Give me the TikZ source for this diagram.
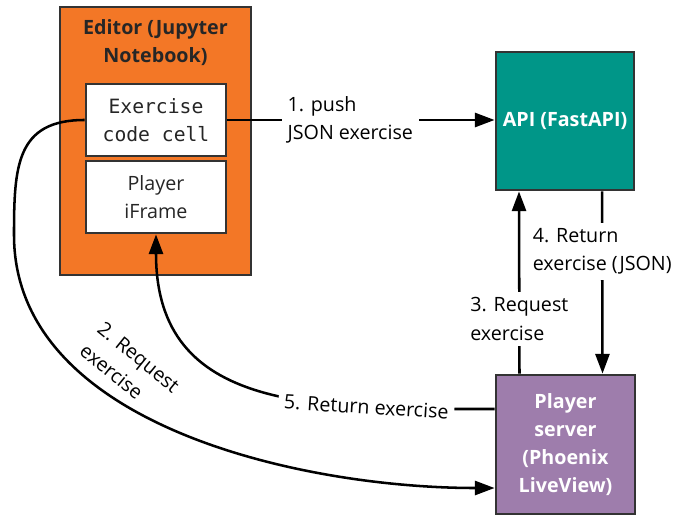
\documentclass[tikz,border=0pt]{standalone}
\usepackage{fontspec}
\setmainfont{Open Sans}
\setmonofont{DejaVu Sans Mono}
\usetikzlibrary{arrows.meta}

\definecolor{jupyterorange}{HTML}{F37726}
\definecolor{fastteal}{HTML}{009688}
\definecolor{phoenixpurple}{HTML}{9E7DAC}
\definecolor{edgegray}{HTML}{333333}

\begin{document}
\begin{tikzpicture}[x=0.025cm, y=-0.025cm, block/.style={draw=edgegray, line width=2pt, rectangle, align=center, font=\bfseries\fontsize{14}{20}\selectfont}]
            \tikzset{cell/.style = {block, fill=white, text=black!85, font=\fontsize{14}{20}\selectfont, minimum width=3.5cm, minimum height=1.8cm}}
            \tikzset{edge/.style = {-{Triangle[length=14pt,width=10pt]}, line width=1.8pt}}
            \tikzset{msg/.style = {fill=white, align=left, inner sep=4pt, font=\fontsize{14}{20}\selectfont}}

            \useasboundingbox (0,0) rectangle (676,517);

            \node[block, fill=jupyterorange, minimum width=4.775cm, minimum height=6.7cm] (editor) at (155.5,141) {};
            \node[align=center, text=black!85, font=\bfseries\fontsize{14}{20}\selectfont] (editortitle) at (155.5,43) {Editor (Jupyter\\Notebook)};
            \node[cell, font=\ttfamily\fontsize{14}{20}\selectfont] (code) at (156,120) {Exercise\\code cell};
            \node[cell] (iframe) at (156,197) {Player\\iFrame};

            \node[block, fill=fastteal, text=white, minimum size=3.45cm] (api) at (565,121) {API (FastAPI)};
            \node[block, fill=phoenixpurple, text=white, minimum size=3.475cm] (server) at (565.5,444.5) {Player\\server\\(Phoenix\\LiveView)};

            \coordinate (bend) at (14,235);

            \draw[edge] (code.east) -- node[msg, pos=0.46] {1. push\\JSON exercise} (code.east -| api.west);
            \draw[edge] ([xshift=0.925cm]api.south) -- node[msg, pos=0.33] {4. Return\\exercise (JSON)} ([xshift=0.925cm]server.north);
            \draw[edge] ([xshift=-1.15cm]server.north) -- node[msg, pos=0.3] {3. Request\\exercise} ([xshift=-1.15cm]api.south);
            \draw[edge] ([yshift=0.8875cm]server.west) to[out=180, in=-90, looseness=1.2] node[msg, sloped, pos=0.25] {5. Return exercise} (iframe.south);
            \draw[edge] (code.west) to[out=180, in=90, looseness=1.3] (bend) to[out=-90, in=180, looseness=0.9] node[msg, fill=none, sloped, rotate=-5, above=4pt, pos=0.36] {2. Request\\exercise} ([yshift=-1.0875cm]server.west);
\end{tikzpicture}
\end{document}
